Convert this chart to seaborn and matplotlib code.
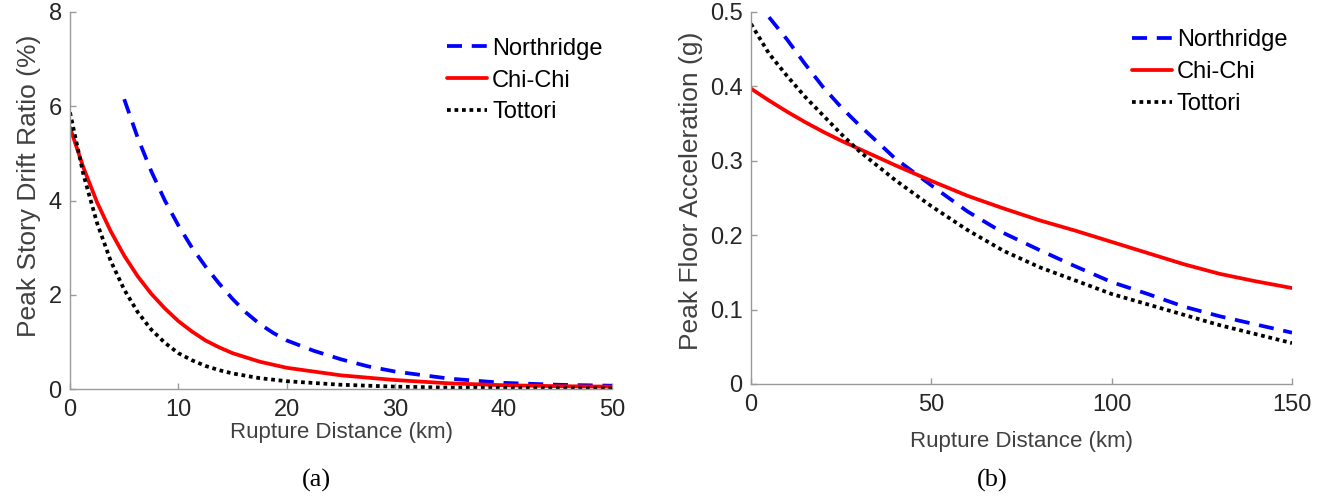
import numpy as np
import pandas as pd
import matplotlib
matplotlib.use("Agg")
import matplotlib.pyplot as plt
import seaborn as sns

# ---------------- data ----------------
series_names = ["Northridge", "Chi-Chi", "Tottori"]

# panel (a): Peak story drift ratio (%) vs rupture distance (km)
dist_a_northridge = [5, 6.25, 7.5, 8.75, 10, 11.25, 12.5, 13.75, 15, 16.25, 17.5, 18.75, 20,
                     22.5, 25, 27.5, 30, 35, 40, 45, 50]
drift_northridge = [6.15, 5.33, 4.62, 4.00, 3.47, 3.00, 2.60, 2.24, 1.91, 1.62, 1.38, 1.19, 1.03,
                    0.81, 0.63, 0.48, 0.37, 0.22, 0.13, 0.09, 0.07]
dist_a = [0, 1.25, 2.5, 3.75, 5, 6.25, 7.5, 8.75, 10, 11.25, 12.5, 13.75, 15, 17.5, 20,
          25, 30, 35, 40, 45, 50]
drift_chichi = [5.55, 4.69, 3.96, 3.35, 2.83, 2.39, 2.02, 1.71, 1.44, 1.22, 1.03, 0.885, 0.76,
                0.58, 0.45, 0.29, 0.19, 0.12, 0.08, 0.06, 0.05]
drift_tottori = [5.87, 4.54, 3.52, 2.72, 2.11, 1.63, 1.26, 0.98, 0.76, 0.61, 0.49, 0.40, 0.33,
                 0.23, 0.165, 0.09, 0.05, 0.03, 0.02, 0.015, 0.01]

# panel (b): Peak floor acceleration (g) vs rupture distance (km)
dist_b_northridge = [5, 10, 15, 20, 25, 30, 40, 50, 60, 70, 80, 90, 100, 110, 120, 130, 140, 150]
pfa_northridge = [0.493, 0.463, 0.430, 0.399, 0.372, 0.348, 0.303, 0.267, 0.232, 0.203, 0.180,
                  0.158, 0.137, 0.121, 0.104, 0.091, 0.080, 0.069]
dist_b = [0, 5, 10, 15, 20, 25, 30, 40, 50, 60, 70, 80, 90, 100, 110, 120, 130, 140, 150]
pfa_chichi = [0.397, 0.381, 0.366, 0.352, 0.339, 0.327, 0.316, 0.294, 0.273, 0.253, 0.236, 0.220,
              0.206, 0.191, 0.176, 0.161, 0.148, 0.138, 0.129]
pfa_tottori = [0.484, 0.444, 0.414, 0.386, 0.361, 0.336, 0.313, 0.274, 0.239, 0.207, 0.179,
               0.157, 0.139, 0.121, 0.107, 0.093, 0.079, 0.067, 0.055]

xticks_a = [0, 10, 20, 30, 40, 50]
yticks_a = [0, 2, 4, 6, 8]
xticks_b = [0, 50, 100, 150]
yticks_b = [0, 0.1, 0.2, 0.3, 0.4, 0.5]
yticklabels_b = ["0", "0.1", "0.2", "0.3", "0.4", "0.5"]

# ---------------- styling ----------------
sns.set_theme(style="ticks")
plt.rcParams['font.family'] = ['Liberation Sans', 'DejaVu Sans']

colors = {"Northridge": "#0000FF", "Chi-Chi": "#FF0000", "Tottori": "#000000"}
LW = 2.7
styles = {"Northridge": (0, (4.0, 2.6)), "Chi-Chi": "-", "Tottori": (0, (1.0, 1.0))}
SPINE = "#9a9a9a"
TICKTXT = "#262626"
LABTXT = "#404040"

fig = plt.figure(figsize=(13.31, 4.97), dpi=100)
W, H = 1331, 497
ax1 = fig.add_axes([70 / W, 1 - 389 / H, 542 / W, 377 / H])
ax2 = fig.add_axes([751 / W, 1 - 384 / H, 541 / W, 372 / H])


def draw(ax, xs, ys):
    for name, x, y in zip(series_names, xs, ys):
        df = pd.DataFrame({"x": x, "y": y})
        sns.lineplot(data=df, x="x", y="y", ax=ax, color=colors[name], lw=LW,
                     linestyle=styles[name], label=name, legend=False)


draw(ax1, [dist_a_northridge, dist_a, dist_a], [drift_northridge, drift_chichi, drift_tottori])
draw(ax2, [dist_b_northridge, dist_b, dist_b], [pfa_northridge, pfa_chichi, pfa_tottori])

for ax in (ax1, ax2):
    sns.despine(ax=ax)
    for sp in ("left", "bottom"):
        ax.spines[sp].set_color(SPINE)
        ax.spines[sp].set_linewidth(1.0)
    ax.tick_params(direction="in", length=4, width=1.0, color=SPINE,
                   labelsize=17, labelcolor=TICKTXT)
    ax.tick_params(axis="x", pad=7)
    ax.tick_params(axis="y", pad=6)
    ax.set_facecolor("white")

ax1.set_xlim(0, 50)
ax1.set_ylim(0, 8)
ax1.set_xticks(xticks_a)
ax1.set_yticks(yticks_a)
ax1.set_xlabel("Rupture Distance (km)", fontsize=16, color=LABTXT, labelpad=1)
ax1.set_ylabel("Peak Story Drift Ratio (%)", fontsize=19, color=LABTXT, labelpad=5)
ax1.yaxis.label.set_y(0.54)

ax2.set_xlim(0, 150)
ax2.set_ylim(0, 0.5)
ax2.set_xticks(xticks_b)
ax2.set_yticks(yticks_b)
ax2.set_yticklabels(yticklabels_b)
ax2.set_xlabel("Rupture Distance (km)", fontsize=16, color=LABTXT, labelpad=11)
ax2.set_ylabel("Peak Floor Acceleration (g)", fontsize=19, color=LABTXT, labelpad=5)
ax2.yaxis.label.set_y(0.52)

for ax, anchor in ((ax1, (0.696, 0.932)), (ax2, (0.704, 0.954))):
    handles, labels = ax.get_legend_handles_labels()
    ax.legend(handles, labels, loc="upper left", bbox_to_anchor=anchor, frameon=False,
              fontsize=17, handlelength=1.7, handletextpad=0.2, labelspacing=0.42,
              borderaxespad=0, borderpad=0, labelcolor="black")

fig.text(316 / W, 1 - 480 / H, "(a)", ha="center", va="center", fontsize=19,
         family=["Liberation Serif", "DejaVu Serif"], color="black")
fig.text(992 / W, 1 - 480 / H, "(b)", ha="center", va="center", fontsize=19,
         family=["Liberation Serif", "DejaVu Serif"], color="black")

fig.savefig("out.png", dpi=100, facecolor="white")
